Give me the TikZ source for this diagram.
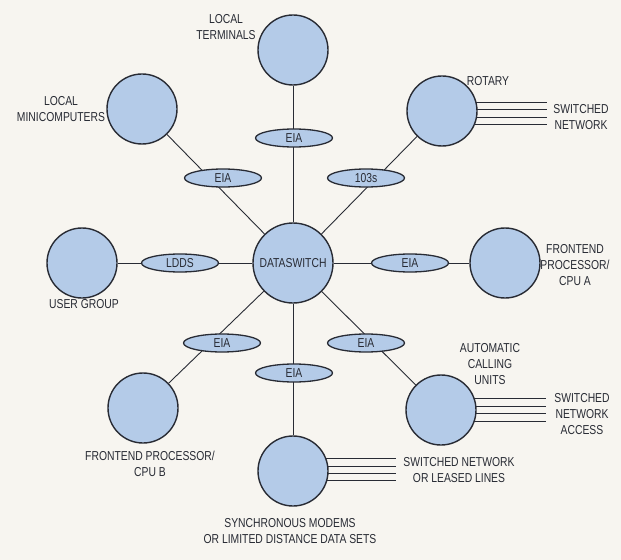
\documentclass[tikz,border=0pt]{standalone}
\usepackage{fontspec}
\setmainfont{Liberation Sans}[FakeStretch=0.8]
\usetikzlibrary{backgrounds,shapes.geometric}
\definecolor{bg}{RGB}{247,245,240}
\definecolor{fillb}{RGB}{180,203,232}
\definecolor{ink}{RGB}{40,43,52}
\begin{document}
\begin{tikzpicture}[x=1bp,y=-1bp,
  every node/.style={text=ink, font=\fontsize{13}{16.5}\selectfont},
  dev/.style={circle, draw=ink, line width=1.4bp, fill=fillb, minimum size=70bp, inner sep=0pt},
  hub/.style={dev, minimum size=80bp},
  iface/.style={ellipse, draw=ink, line width=1.3bp, fill=fillb, minimum width=77bp, minimum height=18bp, inner sep=0pt},
  lbl/.style={align=center, inner sep=0pt},
  link/.style={draw=ink, line width=0.9bp},
]
\useasboundingbox (0,0) rectangle (621,560);
% devices
\node[hub] (ds) at (293,263) {DATASWITCH};
\node[dev] (lt) at (293,50) {};
\node[dev] (lm) at (142,109) {};
\node[dev] (rot) at (442,111) {};
\node[dev] (ug) at (82,263) {};
\node[dev] (fa) at (505,263) {};
\node[dev] (fb) at (143,408) {};
\node[dev] (ac) at (441,410) {};
\node[dev] (sm) at (293,471) {};
% interfaces
\node[iface] (e1) at (294,138) {EIA};
\node[iface] (e2) at (223,178) {EIA};
\node[iface] (e3) at (366,178) {103s};
\node[iface] (e4) at (180,263) {LDDS};
\node[iface] (e5) at (410,263) {EIA};
\node[iface] (e6) at (222,343) {EIA};
\node[iface] (e7) at (366,343) {EIA};
\node[iface] (e8) at (294,373) {EIA};
% free ends of the trunk lines
\coordinate (rotend) at (547,0);
\coordinate (acend) at (546,0);
\coordinate (smend) at (396,0);
\begin{scope}[on background layer]
  \fill[bg] (0,0) rectangle (621,560);
  \foreach \t in {lt,lm,rot,ug,fa,fb,ac,sm} \draw[link] (ds) -- (\t);
  \foreach \y in {102,109,117,124} \draw[link] (rot |- 0,\y) -- (rotend |- 0,\y);
  \foreach \y in {398,406,413,421} \draw[link] (ac |- 0,\y) -- (acend |- 0,\y);
  \foreach \y in {458,466,473,480} \draw[link] (sm |- 0,\y) -- (smend |- 0,\y);
\end{scope}
% labels
\node[lbl] (tlt) at (226,27) {LOCAL\\TERMINALS};
\node[lbl] (tlm) at (61,109) {LOCAL\\MINICOMPUTERS};
\node[lbl] (trot) at (488,81) {ROTARY};
\node[lbl] (tsw1) at (581,117) {SWITCHED\\NETWORK};
\node[lbl] (tug) at (84,304) {USER GROUP};
\node[lbl] (tfa) at (575,265) {FRONTEND\\PROCESSOR/\\CPU A};
\node[lbl] (tac) at (490,364) {AUTOMATIC\\CALLING\\UNITS};
\node[lbl] (tsw2) at (582,414) {SWITCHED\\NETWORK\\ACCESS};
\node[lbl] (tfb) at (150,464) {FRONTEND PROCESSOR/\\CPU B};
\node[lbl] (tsw3) at (459,470) {SWITCHED NETWORK\\OR LEASED LINES};
\node[lbl] (tsm) at (290,531) {SYNCHRONOUS MODEMS\\OR LIMITED DISTANCE DATA SETS};
\end{tikzpicture}
\end{document}
